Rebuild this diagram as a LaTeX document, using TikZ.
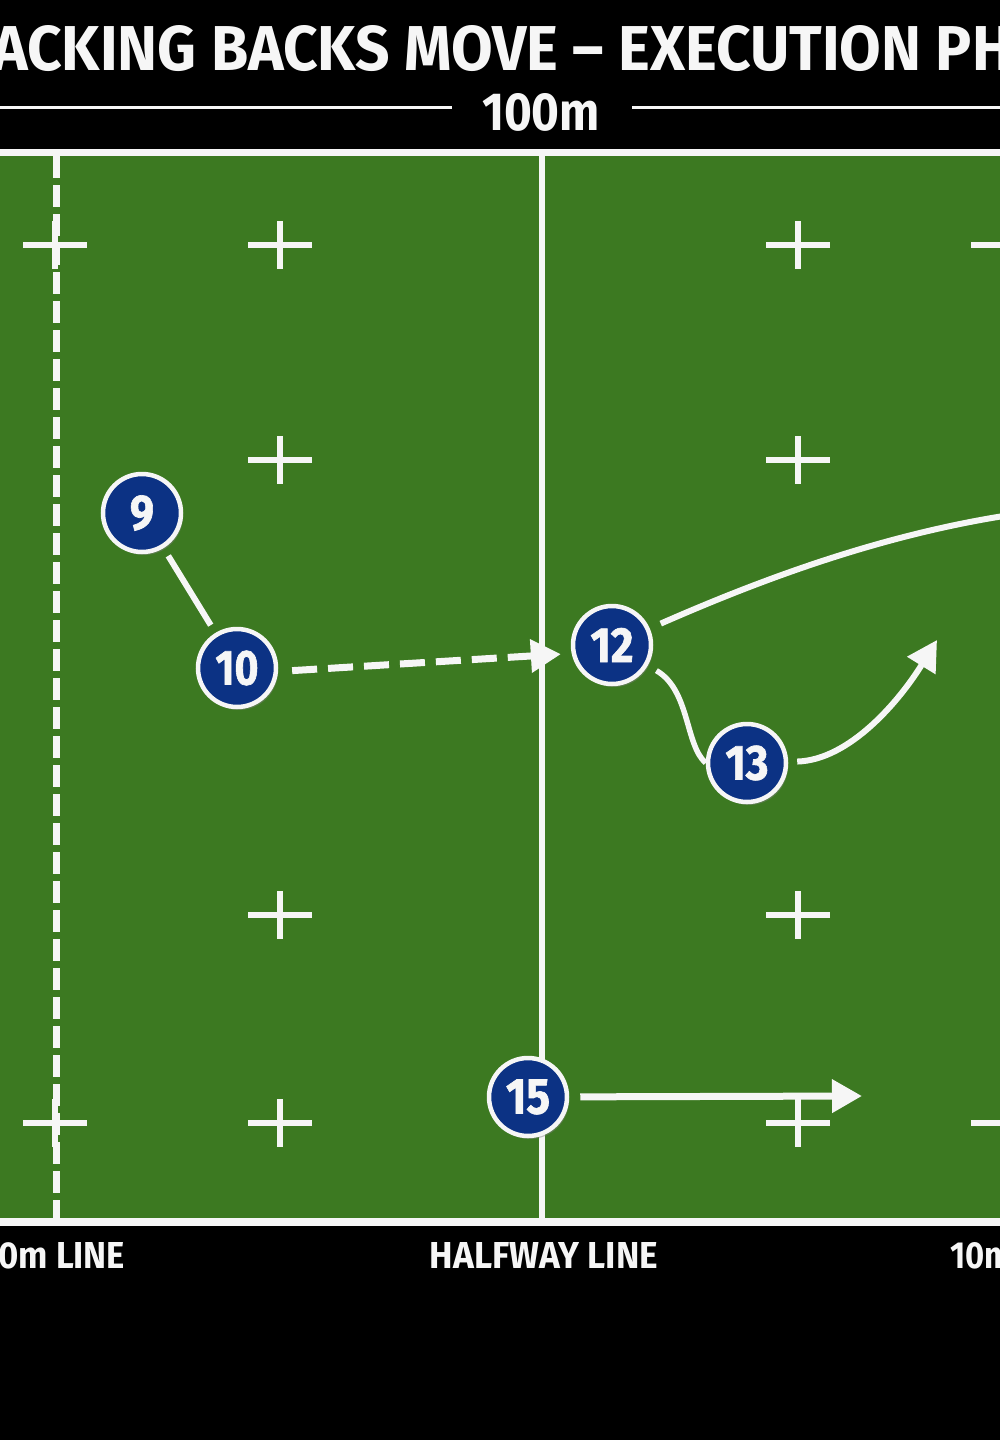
\documentclass[tikz,border=0pt]{standalone}
\usepackage{fontspec}
\setmainfont{Fira Sans}
\newfontfamily\digitfont{Fira Sans}[BoldFeatures={FakeBold=1.4}]
\usetikzlibrary{arrows.meta,shadows}
\definecolor{turf}{RGB}{60,121,33}
\definecolor{navy}{RGB}{12,50,132}
\definecolor{chalk}{RGB}{246,246,246}
\newcommand\pnum[2]{\resizebox{#2pt}{34pt}{\digitfont\bfseries #1}}
\tikzset{
  player/.style={circle,draw=chalk,line width=4.5pt,fill=navy,minimum size=78pt,inner sep=0pt,text=chalk,
    drop shadow={opacity=0.45,shadow xshift=2pt,shadow yshift=-3pt}},
  fieldline/.style={draw=chalk,line width=6pt},
  run/.style={draw=chalk,line width=6pt},
  runtip/.style={-{Triangle[length=30pt,width=32pt]}},
  brand/.style={inner sep=0pt,text=chalk},
  tcross/.pic={\draw[chalk,line width=6.5pt] (-32,0) -- (32,0) (0,-24) -- (0,24);}
}
\begin{document}
\begin{tikzpicture}[x=1pt,y=-1pt]
\useasboundingbox (0,0) rectangle (1000,1440);
\clip (0,0) rectangle (1000,1440);
\fill[black] (0,0) rectangle (1000,1440);
% field
\fill[turf] (0,152) rectangle (1000,1222);
\draw[fieldline,line width=7pt] (0,152) -- (1000,152);
\draw[fieldline,line width=8pt] (0,1222) -- (1000,1222);
\draw[fieldline,line width=7pt,dash pattern=on 22pt off 7pt] (56,156) -- (56,1218);
\draw[fieldline,line width=6pt] (542,156) -- (542,1218);
% crosses
\foreach \y in {245,1123} {\pic at (55,\y) {tcross}; \pic at (1003,\y) {tcross};}
\foreach \x in {280,798} {\foreach \y in {245,460,915,1123} {\pic at (\x,\y) {tcross};}}
% header
\node[brand,anchor=base west] (title) at (-8,70) {\resizebox{1020pt}{45pt}{\bfseries ACKING BACKS MOVE – EXECUTION PH}};
\node[brand,anchor=base] (len) at (541,130) {\resizebox{118pt}{37pt}{\bfseries 100m}};
\draw[chalk,line width=3pt] (0,107) -- (452,107);
\draw[chalk,line width=3pt] (632,107) -- (1000,107);
% footer labels
\node[brand,anchor=base west] (l10) at (-2,1268) {\resizebox{127pt}{26pt}{\bfseries 0m LINE}};
\node[brand,anchor=base] (lhalf) at (544,1268) {\resizebox{228pt}{26pt}{\bfseries HALFWAY LINE}};
\node[brand,anchor=base west] (r10) at (950,1268) {\resizebox{62pt}{26pt}{\bfseries 10m}};
% players
\node[player] (p9) at (142,513) {\pnum{9}{24}};
\node[player] (p10) at (237,668) {\pnum{10}{43}};
\node[player] (p12) at (612,645) {\pnum{12}{43}};
\node[player] (p13) at (747,763) {\pnum{13}{43}};
\node[player] (p15) at (528,1097) {\pnum{15}{44}};
\coordinate (e12) at (1010,515);
\coordinate (t13) at (937,640);
\coordinate (t15) at (862,1096);
% runs
\draw[run,shorten <=9pt,shorten >=9pt] (p9) -- (p10);
\draw[run,runtip,line width=7pt,dash pattern=on 25pt off 11pt,shorten <=14pt,shorten >=10pt,transform canvas={yshift=-6pt}] (p10) -- (p12);
\draw[run,shorten <=12pt] (p12) .. controls (760,580) and (880,535) .. (e12);
\draw[run,line width=5.5pt,shorten <=10pt] (p12) .. controls (690,690) and (685,745) .. (p13.west);
\draw[run,runtip,shorten <=9pt] (p13) .. controls (850,760) and (900,700) .. (t13);
\draw[run,runtip,line width=7pt,shorten <=11pt] (p15) -- (t15);
\end{tikzpicture}
\end{document}
